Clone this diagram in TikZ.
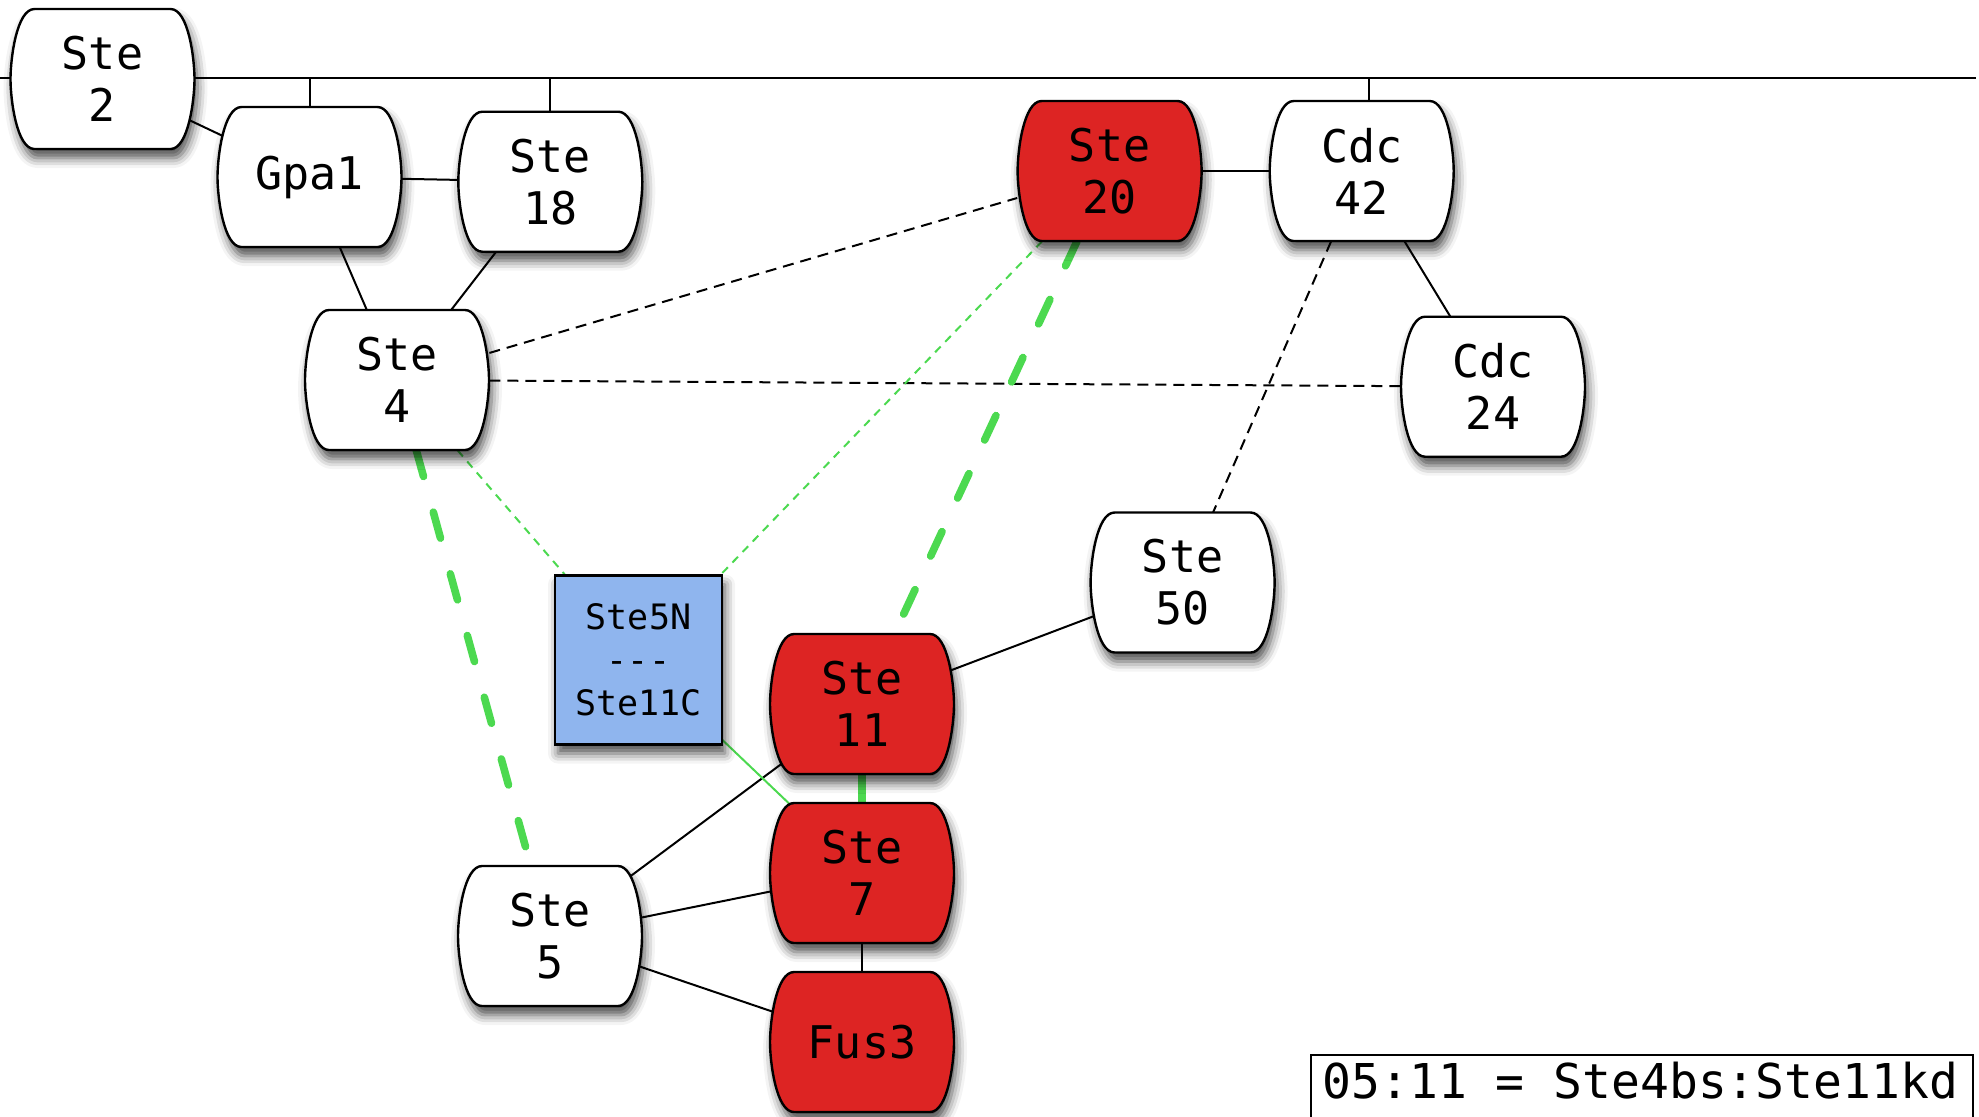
\documentclass[tikz,border=0pt]{standalone}
\usepackage{fontspec}
\newfontfamily\labelfont{DejaVu Sans Mono}
\usetikzlibrary{shadows.blur}
\pgfdeclarelayer{background}
\pgfsetlayers{background,main}

\definecolor{protred}{RGB}{221,36,35}
\definecolor{linkgreen}{RGB}{76,217,80}
\definecolor{domblue}{RGB}{143,181,238}

\tikzset{
  softshadow/.style={blur shadow={shadow xshift=1.5pt, shadow yshift=-4.5pt,
      shadow blur radius=5pt, shadow opacity=70}},
  protshape/.style={draw=black, line width=1.2pt, fill=#1, softshadow},
  protlabel/.style={font=\labelfont\fontsize{22.5}{26}\selectfont, align=center,
      inner sep=0pt, minimum width=92pt, minimum height=70pt},
  dombox/.style={draw=black, line width=1.2pt, fill=domblue, softshadow,
      font=\labelfont\fontsize{17.5}{21.4}\selectfont, align=center,
      inner sep=0pt, minimum width=83.5pt, minimum height=84.5pt},
  plainlink/.style={draw=black, line width=1pt},
  weaklink/.style={draw=black, line width=1pt, dash pattern=on 5.5pt off 3.5pt},
  thingreen/.style={draw=linkgreen, line width=1pt, dash pattern=on 4pt off 3.3pt},
  thingreensolid/.style={draw=linkgreen, line width=1pt},
  thickgreen/.style={draw=linkgreen, line width=3.8pt, line cap=round,
      dash pattern=on 13.5pt off 18.5pt},
  legendtext/.style={font=\labelfont\fontsize{24}{28}\selectfont, inner sep=0pt}
}

% protein node: name, centre, fill colour, label
\newcommand\protein[4]{%
  \path[protshape=#3, shift={(#2)}]
    (-68,-70) -- (68,-70)
    .. controls (86,-70) and (92,-20) .. (92,0)
    .. controls (92,20) and (86,70) .. (68,70)
    -- (-68,70)
    .. controls (-86,70) and (-92,20) .. (-92,0)
    .. controls (-92,-20) and (-86,-70) .. (-68,-70) -- cycle;
  \node[protlabel] (#1) at (#2) {#4};
}

\begin{document}
\begin{tikzpicture}[x=0.5pt, y=-0.5pt]
\clip (0,0) rectangle (1979,1116);

% proteins
\protein{ste2}{102.5,79}{white}{Ste\\2}
\protein{gpa1}{309.5,177}{white}{Gpa1}
\protein{ste18}{550.3,181.7}{white}{Ste\\18}
\protein{ste20}{1109.6,171}{protred}{Ste\\20}
\protein{cdc42}{1361.7,171}{white}{Cdc\\42}
\protein{ste4}{397,380}{white}{Ste\\4}
\protein{cdc24}{1493,386.7}{white}{Cdc\\24}
\protein{ste50}{1182.6,582.5}{white}{Ste\\50}
\protein{ste11}{862,704}{protred}{Ste\\11}
\protein{ste7}{862,873}{protred}{Ste\\7}
\protein{ste5}{550,936}{white}{Ste\\5}
\protein{fus3}{862,1042}{protred}{Fus3}

% fused domain construct
\node[dombox] (ste5n) at (638.5,660) {Ste5N\\---\\Ste11C};

% membrane line
\coordinate (busL) at (0,78);
\coordinate (busR) at (1976,78);

\begin{pgfonlayer}{background}
  \draw[plainlink] (busL) -- (busR);
  \draw[plainlink] (gpa1.north) -- (gpa1.north |- busL);
  \draw[plainlink] (ste18.north) -- (ste18.north |- busL);
  \draw[plainlink] ([xshift=3.5pt]cdc42.north) -- ([xshift=3.5pt]cdc42.north |- busL);

  % physical interactions
  \draw[plainlink] (ste2.center) -- (gpa1.center);
  \draw[plainlink] (gpa1.center) -- (ste18.center);
  \draw[plainlink] (gpa1.center) -- (ste4.center);
  \draw[plainlink] (ste18.center) -- (ste4.center);
  \draw[plainlink] (ste20.center) -- (cdc42.center);
  \draw[plainlink] (cdc42.center) -- (cdc24.center);
  \draw[plainlink] (ste50.center) -- (ste11.center);
  \draw[plainlink] (ste5.center) -- (ste11.center);
  \draw[plainlink] (ste5.center) -- (ste7.center);
  \draw[plainlink] (ste5.center) -- (fus3.center);
  \draw[plainlink] (ste7.center) -- (fus3.center);
  \draw[thingreensolid] (ste5n.center) -- (ste7.center);

  % indirect links
  \draw[weaklink] (ste4) -- (ste20);
  \draw[weaklink] (ste4) -- (cdc24);
  \draw[weaklink] (cdc42) -- (ste50);

  % rewired links
  \draw[thingreen] (ste4) -- (ste5n);
  \draw[thingreen] (ste20) -- (ste5n);
  \draw[thickgreen] (ste20) -- (ste11);
  \draw[thickgreen] (ste4) -- (ste5);
  \draw[thickgreen] (ste11) -- (ste7);
\end{pgfonlayer}

% legend
\draw[line width=1pt] (1311,1055) rectangle (1973,1140);
\node[legendtext, anchor=base west] (legend) at (1322,1098) {05:11 = Ste4bs:Ste11kd};
\end{tikzpicture}
\end{document}
